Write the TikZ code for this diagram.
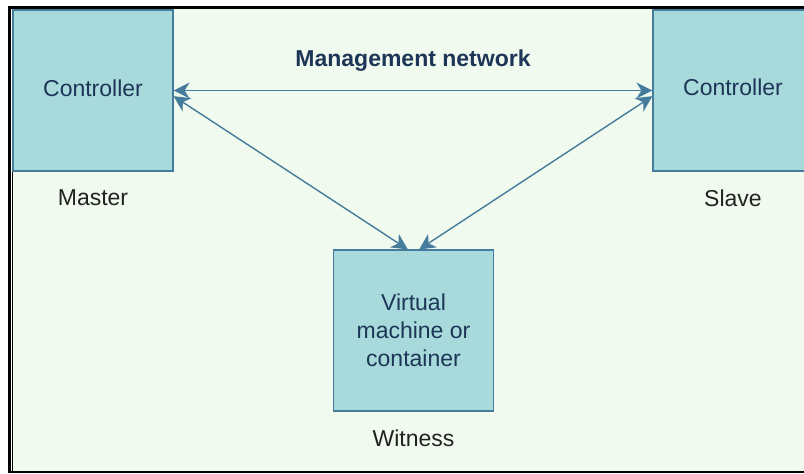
\documentclass[tikz,border=0pt]{standalone}
\usepackage{fontspec}
\setmainfont{Liberation Sans}
\usetikzlibrary{arrows.meta}
\definecolor{paper}{HTML}{F1FAEE}
\definecolor{boxfill}{HTML}{A8DADC}
\definecolor{boxline}{HTML}{457B9D}
\definecolor{boxtext}{HTML}{1D3557}
\definecolor{captext}{HTML}{222222}
\begin{document}
\begin{tikzpicture}
[x=0.5pt,y=-0.5pt,
box/.style={rectangle,draw=boxline,fill=boxfill,line width=0.6pt,minimum width=80pt,minimum height=80.5pt,inner sep=2pt,text=boxtext,align=center,font=\fontsize{11.5}{14}\selectfont},
tag/.style={text=captext,font=\fontsize{11.5}{14}\selectfont,yshift=-5.5pt},
link/.style={draw=boxline,line width=0.7pt,{Stealth[length=8pt,width=8pt,inset=2.5pt]}-{Stealth[length=8pt,width=8pt,inset=2.5pt]}}]
\useasboundingbox (0,0) rectangle (804,473);
% page and frame
\fill[white] (0,0) rectangle (804,473);
\fill[paper] (13,9) rectangle (804,471);
\draw[line width=1.5pt] (9.5,473) -- (9.5,7.5) -- (804,7.5);
\draw[line width=0.5pt] (12.5,9) -- (12.5,471);
\draw[line width=1.2pt] (8,472) -- (804,472);
% boxes
\node[box,label={[tag]below:Master}] (master) at (93,90.5) {\raisebox{2.5pt}{Controller}};
\node[box,label={[tag]below:Slave}] (slave) at (733,90.5) {\raisebox{3.5pt}{Controller}};
\node[box,label={[tag]below:Witness}] (witness) at (413.5,330.5) {Virtual\\machine or\\container};
\path (master) edge[link] node[above=6pt,text=boxtext,font=\fontsize{11.5}{14}\selectfont\bfseries] (net) {Management network} (slave)
(master.-4) edge[link] (witness.94)
(slave.184) edge[link] (witness.86);
\end{tikzpicture}
\end{document}
